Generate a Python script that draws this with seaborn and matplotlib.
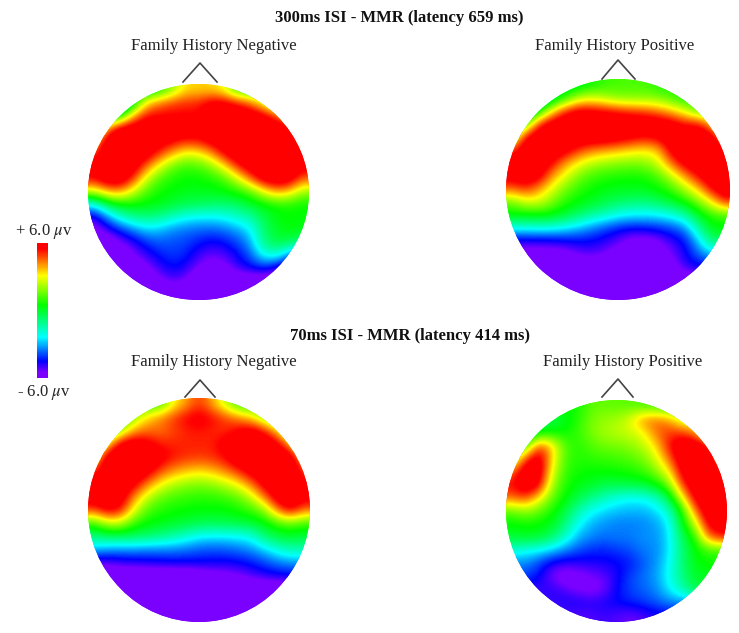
import numpy as np
import matplotlib
matplotlib.use('Agg')
import matplotlib.pyplot as plt
import seaborn as sns
from matplotlib.colors import LinearSegmentedColormap
from matplotlib.lines import Line2D
from matplotlib.patches import Ellipse

W, H = 739, 633

# potential in microvolts, 17 x 17 cells per head
fh_neg_300 = [
    [0, 0, 0, 0, 0, .6, 2, 3.4, 3.5, 3.5, 3, 1, 1, 1, 1, 1, 1],
    [-3, -3, -3, 0, 3.5, 4.5, 5, 5.2, 5.2, 6, 6, 5.5, 4.5, 3, 1, 1, 1],
    [-1, -1, .5, 4, 5.5, 5.5, 5.5, 5.5, 5.5, 6.5, 6.5, 6.5, 6.5, 6, 5, 3, 3],
    [.5, 4.5, 6.5, 6.5, 6.5, 6.5, 6.5, 6.5, 6, 6.5, 6.5, 6.5, 6.5, 6.5, 6.5, 6, 2],
    [3.5, 6.5, 6.5, 6.5, 6.5, 6.2, 5.7, 5.2, 5.4, 6, 6.5, 6.5, 6.5, 6.5, 6.5, 6.5, 4.5],
    [5, 6.5, 6.5, 6.5, 6.2, 5, 3.8, 2.8, 3, 4, 5.7, 6.5, 6.5, 6.5, 6.5, 6.5, 5.5],
    [6, 6.5, 6.5, 6.3, 4.5, 2.8, 1.5, 1, 1.2, 1.8, 3.2, 5.2, 6.3, 6.5, 6.5, 6.5, 6],
    [5.5, 6.5, 6.5, 5, 2.5, 1.2, .7, .5, .5, .7, 1.2, 2.5, 4.5, 6.2, 6.5, 6.3, 4.5],
    [2.5, 3.8, 4, 2.5, 1.2, .6, .4, .2, .2, .2, .4, .7, 1.2, 2.8, 4, 3.5, 2],
    [-2.5, -.5, .4, .5, .4, .2, -.1, -.4, -.5, -.7, -.8, -.6, 0, .3, .6, .7, .5],
    [-5, -3.5, -2, -1.2, -1, -1.2, -1.8, -2.3, -2.5, -2.5, -2.3, -1.8, -1.5, -.3, .3, .5, .4],
    [-6, -5, -4.3, -3.5, -2.8, -3, -3.4, -3.6, -3.7, -3.8, -3.6, -3.2, -2.5, -.8, .1, .4, .2],
    [-6.5, -6.5, -5.5, -5, -4.2, -3.8, -3.9, -4, -4.4, -4.7, -4.5, -4, -3.2, -1, -.3, -.5, -1],
    [-6.5, -6.5, -6.5, -5.5, -5, -4.4, -4.1, -4.3, -5, -5.4, -5.2, -4.6, -3.8, -2.3, -2, -3.5, -5],
    [-6.5, -6.5, -6.5, -6.5, -5.7, -5, -4.5, -4.8, -5.6, -6, -5.8, -5, -4.6, -4.3, -5, -6, -6],
    [-6.5, -6.5, -6.5, -6.5, -6.5, -5.7, -5.2, -5.5, -6.5, -6.5, -6.5, -6.5, -6.5, -6.5, -6.5, -6.5, -6.5],
    [-6.5, -6.5, -6.5, -6.5, -6.5, -6.5, -6.5, -6.5, -6.5, -6.5, -6.5, -6.5, -6.5, -6.5, -6.5, -6.5, -6.5],
]

fh_pos_300 = [
    [0, 0, 0, 0, 0, 0, .6, 1, 1.2, 1.2, 1.2, .8, .8, .8, .8, .8, .8],
    [-2, -2, -2, -.5, .8, 2.5, 2.8, 2.3, 1.8, 1.8, 1.8, 1.8, 1.2, .6, .6, .6, .6],
    [-2, -2, .5, 3.5, 5.5, 6.2, 6, 5.8, 5.5, 5.2, 5, 4.5, 3.8, 3, 1.5, 1.5, 1.5],
    [-1, 1.5, 5.5, 6.5, 6.5, 6.5, 6.5, 6.5, 6.5, 6.5, 6.5, 6.5, 6.3, 5.5, 5.8, 4, 1],
    [2, 6, 6.5, 6.5, 6.5, 6.5, 6.5, 6.5, 6.2, 5.8, 5.5, 5.8, 6.5, 6.5, 6.5, 6.5, 4],
    [5, 6.5, 6.5, 6.5, 6, 5, 4.3, 4, 3.7, 3.4, 3.2, 3.6, 6, 6.5, 6.5, 6.5, 5.5],
    [6.5, 6.5, 6.5, 5.5, 4, 3, 2.3, 2, 1.8, 1.7, 1.8, 2.6, 4.5, 6, 6.5, 6.5, 6.5],
    [6, 6.5, 6, 4, 2.8, 1.7, 1.1, .8, .7, .6, .7, 1.2, 2.4, 4, 5.5, 6.5, 6.5],
    [4.5, 5, 4, 2.7, 1.6, .9, .5, .3, .2, .2, .2, .5, 1, 2.2, 3.5, 5.5, 6.5],
    [1.5, 2.6, 2.6, 1.7, .8, .4, .1, -.3, -.6, -.9, -.9, -.6, -.1, .5, 1.5, 3, 5],
    [.4, .3, .4, .3, -.2, -.8, -1.4, -1.8, -2.3, -2.5, -2.6, -2.5, -2.2, -1.5, 0, .8, 1],
    [-2.3, -2.3, -2.2, -2.3, -2.6, -3, -3.5, -4, -4.4, -4.6, -4.5, -4.3, -4, -3.5, -1.5, .3, .4],
    [-5, -5, -5, -4.9, -4.7, -4.6, -4.6, -4.9, -5.3, -5.9, -6, -5.7, -5, -4.5, -3, -.8, -.8],
    [-6, -6, -6, -6, -5.9, -5.4, -5.2, -5.5, -6, -6, -6, -6, -5.5, -4.7, -3.8, -3, -3],
    [-6.5, -6.5, -6.5, -6.5, -6.5, -6.5, -6.5, -6.5, -6.5, -6.5, -6.5, -6.5, -6, -5, -4.7, -4.7, -4.7],
    [-6.5, -6.5, -6.5, -6.5, -6.5, -6.5, -6.5, -6.5, -6.5, -6.5, -6.5, -6.5, -6.5, -6.5, -6, -6, -6],
    [-6.5, -6.5, -6.5, -6.5, -6.5, -6.5, -6.5, -6.5, -6.5, -6.5, -6.5, -6.5, -6.5, -6.5, -6.5, -6.5, -6.5],
]

fh_neg_70 = [
    [1, 1, 1, 1, 1, 1, 3, 4, 5, 4, 2.5, 1, 1, 1, 1, 1, 1],
    [.5, .5, .5, 2, 3.5, 4.3, 5, 5.6, 6, 5.5, 5, 4.3, 3.5, 2, .5, .5, .5],
    [0, 0, 2, 4, 4.5, 4.4, 4.8, 5.2, 5.3, 5.2, 5, 5.7, 6.2, 5.5, 3.8, 1, 1],
    [.5, 3.5, 6.3, 6.5, 6, 5.3, 5.2, 5.2, 5.2, 5.2, 6, 6.5, 6.5, 6.5, 6, 4, 1],
    [3, 6.5, 6.5, 6.5, 6.5, 6, 5.4, 5.1, 5, 5.1, 5.5, 6.5, 6.5, 6.5, 6.5, 6.5, 3.5],
    [5, 6.5, 6.5, 6.5, 6.2, 5, 4.2, 3.8, 3.5, 3.8, 4.4, 5.2, 6.2, 6.5, 6.5, 6.5, 5],
    [6, 6.5, 6.5, 6, 4.5, 3.2, 2.4, 2, 1.8, 2, 2.5, 3.2, 4.5, 6, 6.5, 6.5, 5.5],
    [6.2, 6.5, 6.3, 4.3, 2.6, 1.6, 1.2, 1, .9, .9, 1.1, 1.5, 2.5, 4.5, 6.3, 6.5, 6],
    [5, 6, 5.5, 3, 1.3, .8, .6, .5, .4, .4, .4, .7, 1, 1.8, 4.5, 6, 4.5],
    [1, 2.5, 2.5, 1, .5, .3, .1, -.1, -.3, -.4, -.3, -.2, 0, .3, 1, 1.5, 1],
    [-.9, -.6, -.5, -.5, -.7, -1, -1.4, -1.9, -2.4, -2.5, -2.5, -2.4, -2.2, -.8, -.2, 0, -.2],
    [-3, -3.3, -3.4, -3.4, -3.5, -3.5, -3.5, -3.6, -3.8, -3.9, -3.8, -3.6, -3.3, -2.8, -2, -1.5, -1.5],
    [-5.3, -5.3, -5, -4.9, -4.8, -4.7, -4.6, -4.6, -4.6, -4.6, -4.7, -4.6, -4.4, -4, -3.6, -3.3, -3.3],
    [-6.5, -6.5, -6.5, -6.5, -6.5, -6.5, -6.5, -6.5, -6.2, -6, -5.8, -5.6, -5.2, -4.9, -4.7, -4.6, -4.6],
    [-6.5, -6.5, -6.5, -6.5, -6.5, -6.5, -6.5, -6.5, -6.5, -6.5, -6.5, -6.5, -6.5, -6.5, -6.5, -6.5, -6.5],
    [-6.5, -6.5, -6.5, -6.5, -6.5, -6.5, -6.5, -6.5, -6.5, -6.5, -6.5, -6.5, -6.5, -6.5, -6.5, -6.5, -6.5],
    [-6.5, -6.5, -6.5, -6.5, -6.5, -6.5, -6.5, -6.5, -6.5, -6.5, -6.5, -6.5, -6.5, -6.5, -6.5, -6.5, -6.5],
]

fh_pos_70 = [
    [.6, .6, .6, .6, .6, .6, 1.4, 1.5, 1.4, 1.4, 1.2, 1, 1, 1, 1, 1, 1],
    [-.5, -.5, -.5, -.5, .2, .8, 1.7, 2, 2.2, 2.8, 4.3, 4.5, 4, 2.5, 2.5, 2.5, 2.5],
    [-1, -1, .2, .5, .5, 1, 1.7, 2.2, 2.4, 2.6, 3, 4.5, 5, 5, 4.2, 2, 2],
    [-.2, 1, 5, 3.6, 1.3, .8, 1.3, 1.6, 1.7, 1.9, 2.4, 3.4, 5.5, 6.5, 6.5, 5.5, 2.5],
    [2, 5, 6.5, 3.5, 1.2, .8, .9, 1, 1.1, 1.3, 1.7, 2.7, 4.5, 6.5, 6.5, 6.5, 4],
    [4.5, 6.5, 6.5, 3, 1, .6, .5, .5, .6, .7, 1, 1.8, 3.2, 6, 6.5, 6.5, 5.5],
    [5.5, 6.5, 6, 2.2, .8, .3, .1, -.3, -.3, -.2, -.1, .4, 1.7, 5, 6.5, 6.5, 6.5],
    [4.5, 5, 3.3, 1.5, .5, -.3, -1, -1.6, -2.1, -2.4, -2.3, -1.8, -.3, 3, 6, 6.5, 6.5],
    [1.5, 2, 1.5, .7, -.2, -1.4, -2.3, -2.7, -2.9, -3, -3, -2.7, -1.8, .7, 4.5, 6.5, 6.5],
    [.4, .6, .5, .2, -.8, -2.3, -3, -3.3, -3.5, -3.5, -3.4, -3.2, -2.5, .2, 2.5, 6, 6],
    [0, .1, 0, -.6, -1.8, -3, -3.4, -3.6, -3.5, -3.5, -3.3, -3.3, -2.6, -.5, .8, 4.5, 5.5],
    [-2, -2.2, -2.4, -2.8, -3.4, -3.9, -4.2, -4.3, -4.1, -3.9, -3.5, -3.4, -2.6, -.8, .4, 1, 1],
    [-3.4, -3.4, -4, -4.8, -5, -4.9, -4.8, -4.7, -4.6, -4.4, -3.8, -3.3, -2.4, -.8, .3, .6, .6],
    [-4, -4, -4.5, -5.5, -6, -5.8, -5.5, -5.3, -4.7, -4, -3.6, -3.2, -2.2, -1, .1, .1, .1],
    [-5, -5, -5, -4.8, -5.2, -5.6, -5.8, -5.5, -4.5, -4, -3.7, -3.4, -2.5, -1.5, -.2, -.2, -.2],
    [-5, -5, -5, -5, -4.7, -4.7, -4.8, -4.7, -4.5, -4.3, -4.1, -3.8, -3.4, -3.4, -3.4, -3.4, -3.4],
    [-5.2, -5.2, -5.2, -5.2, -5.2, -5.2, -5.2, -5, -5.2, -5.4, -5.2, -4.8, -4.8, -4.8, -4.8, -4.8, -4.8],
]

titles = ['300ms ISI - MMR (latency 659 ms)', '70ms ISI - MMR (latency 414 ms)']
group_neg = 'Family History Negative'
group_pos = 'Family History Positive'

cmap = LinearSegmentedColormap.from_list('erp', [
    (0.0, '#7a00ff'), (0.04, '#7a00ff'), (0.12, '#0000ff'), (0.30, '#00ffff'),
    (0.54, '#00ff00'), (0.76, '#ffff00'), (0.96, '#ff0000'), (1.0, '#ff0000')])

plt.rcParams['font.family'] = ['Liberation Serif', 'DejaVu Serif']
plt.rcParams['mathtext.fontset'] = 'stix'

fig = plt.figure(figsize=(W / 100, H / 100), dpi=100, facecolor='white')


def px_axes(x0, y0, x1, y1):
    return fig.add_axes([x0 / W, 1 - y1 / H, (x1 - x0) / W, (y1 - y0) / H])


def draw_head(grid, box, nose, label, label_xy):
    ax = px_axes(*box)
    sns.heatmap(np.array(grid), ax=ax, cmap=cmap, vmin=-6, vmax=6, cbar=False,
                xticklabels=False, yticklabels=False)
    n = len(grid)
    outline = Ellipse((n / 2, n / 2), n, n, transform=ax.transData)
    ax.collections[0].set_clip_path(outline)
    # smooth the cells the way the mapping software does
    im = ax.imshow(np.array(grid), extent=(0, n, n, 0), cmap=cmap, vmin=-6, vmax=6,
                   interpolation='bicubic', aspect='auto', zorder=3)
    im.set_clip_path(outline)
    ax.set_xlim(0, n)
    ax.set_ylim(n, 0)
    ax.axis('off')
    fig.add_artist(Line2D([p[0] / W for p in nose], [1 - p[1] / H for p in nose],
                          color='#444444', lw=1.2))
    fig.text(label_xy[0] / W, 1 - label_xy[1] / H, label, ha='center', va='center',
             fontsize=12, color='#222222')


draw_head(fh_neg_300, (88, 84, 309, 300), [(183, 82), (200, 63), (217, 82)], group_neg, (214, 46))
draw_head(fh_pos_300, (506, 79, 730, 300), [(602, 79), (618, 60), (635, 79)], group_pos, (615, 46))
draw_head(fh_neg_70, (88, 398, 310, 622), [(185, 397), (200, 380), (215, 397)], group_neg, (214, 362))
draw_head(fh_pos_70, (506, 400, 727, 622), [(602, 397), (618, 379), (633, 397)], group_pos, (623, 362))

fig.text(399 / W, 1 - 18 / H, titles[0], ha='center', va='center', fontsize=12,
         fontweight='bold', color='#111111')
fig.text(410 / W, 1 - 336 / H, titles[1], ha='center', va='center', fontsize=12,
         fontweight='bold', color='#111111')

# colour scale
cax = px_axes(37, 243, 48, 378)
sns.heatmap(np.linspace(6, -6, 135).reshape(-1, 1), ax=cax, cmap=cmap, vmin=-6, vmax=6,
            cbar=False, xticklabels=False, yticklabels=False)
cax.axis('off')
fig.text(44 / W, 1 - 232 / H, '+ 6.0 $\\mu$v', ha='center', va='center', fontsize=12, color='#222222')
fig.text(44 / W, 1 - 392 / H, '- 6.0 $\\mu$v', ha='center', va='center', fontsize=12, color='#222222')

fig.savefig('out.png', dpi=100)
plt.close(fig)
